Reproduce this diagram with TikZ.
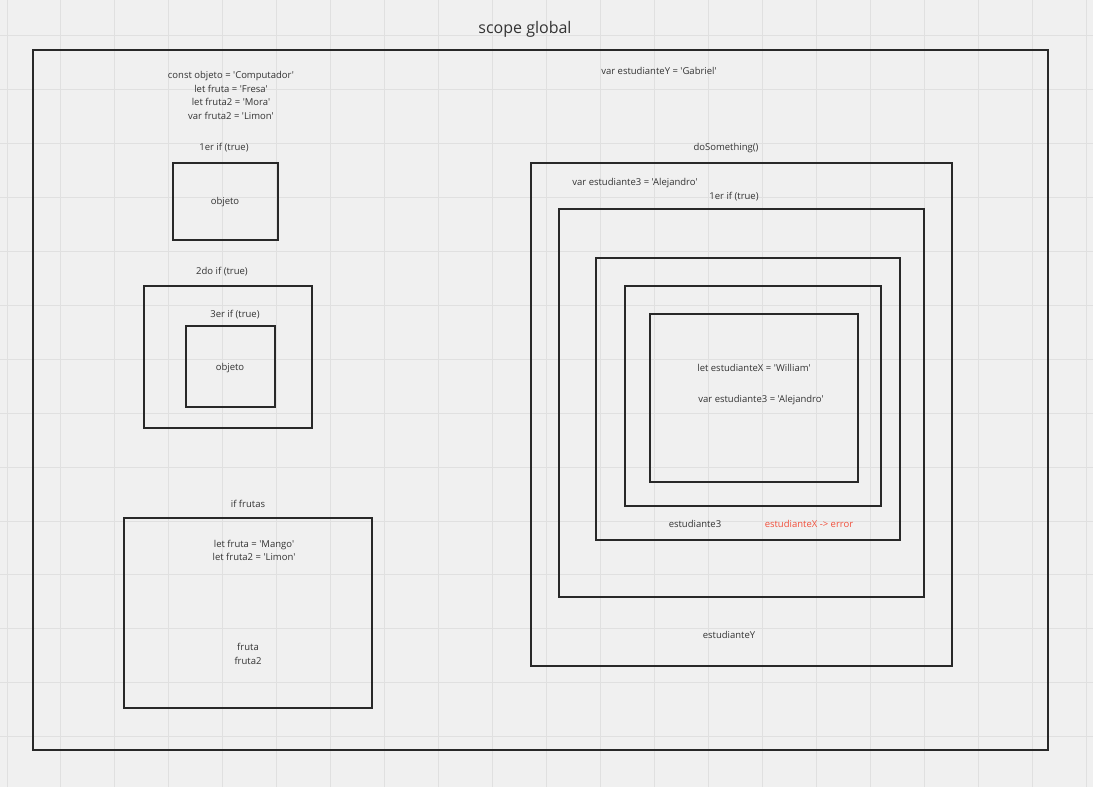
\documentclass[tikz,border=0pt]{standalone}
\usepackage{fontspec}
\setmainfont[Ligatures=TeXOff]{Open Sans}
\definecolor{paper}{RGB}{240,240,240}
\definecolor{gridline}{RGB}{224,224,224}
\definecolor{boxline}{RGB}{40,40,40}
\definecolor{errorred}{RGB}{240,80,60}

\begin{document}
\begin{tikzpicture}[x=1pt, y=-1pt,
    scopebox/.style={draw=boxline, line width=1.6pt, inner sep=0pt},
    code/.style={font=\fontsize{9.5}{13.7}\selectfont, text=black!80, align=center, inner sep=0pt},
    errtext/.style={code, text=errorred}]
  % background and grid
  \fill[paper] (0,0) rectangle (1093,787);
  \useasboundingbox (0,0) rectangle (1093,787);
  \foreach \gx in {0,...,20} \draw[gridline, line width=1pt] (7+\gx*53.95,0) -- (7+\gx*53.95,787);
  \foreach \gy in {0,...,14} \draw[gridline, line width=1pt] (0,-18+\gy*53.9) -- (1093,-18+\gy*53.9);

  % global scope
  \node[code, font=\fontsize{16}{18}\selectfont] (title) at (525,29) {scope global};
  \draw[scopebox] (33,50) rectangle (1048,750);
  \node[code] (globals) at (231,95.5) {const objeto = 'Computador'\\let fruta = 'Fresa'\\let fruta2 = 'Mora'\\var fruta2 = 'Limon'};
  \node[code] (varY) at (659,71) {var estudianteY = 'Gabriel'};

  % left blocks
  \draw[scopebox] (173,163) rectangle (278,240);
  \node[code] (if1) at (224,148) {1er if (true)};
  \node[code] (obj1) at (225,202) {objeto};

  \draw[scopebox] (144,286) rectangle (312,428);
  \node[code] (if2) at (222,272) {2do if (true)};
  \draw[scopebox] (186,326) rectangle (275,407);
  \node[code] (if3) at (235,315) {3er if (true)};
  \node[code] (obj3) at (230,368) {objeto};

  \draw[scopebox] (124,518) rectangle (372,708);
  \node[code] (iffrutas) at (248,504) {if frutas};
  \node[code] (fruitdecl) at (254,550.5) {let fruta = 'Mango'\\let fruta2 = 'Limon'};
  \node[code] (fruituse) at (248,654) {fruta\\fruta2};

  % function scope with nested blocks
  \draw[scopebox] (531,163) rectangle (952,666);
  \node[code] (fn) at (726,148) {doSomething()};
  \node[code] (var3) at (635,183) {var estudiante3 = 'Alejandro'};
  \node[code] (useY) at (729,635) {estudianteY};

  \draw[scopebox] (559,209) rectangle (924,597);
  \node[code] (fnif) at (734,197) {1er if (true)};
  \draw[scopebox] (596,258) rectangle (900,540);
  \node[code] (use3) at (695,524) {estudiante3};
  \node[errtext] (useX) at (809,524) {estudianteX -> error};
  \draw[scopebox] (625,286) rectangle (881,506);
  \draw[scopebox] (650,314) rectangle (858,482);
  \node[code] (letX) at (754,368) {let estudianteX = 'William'};
  \node[code] (var3b) at (761,400) {var estudiante3 = 'Alejandro'};
\end{tikzpicture}
\end{document}
